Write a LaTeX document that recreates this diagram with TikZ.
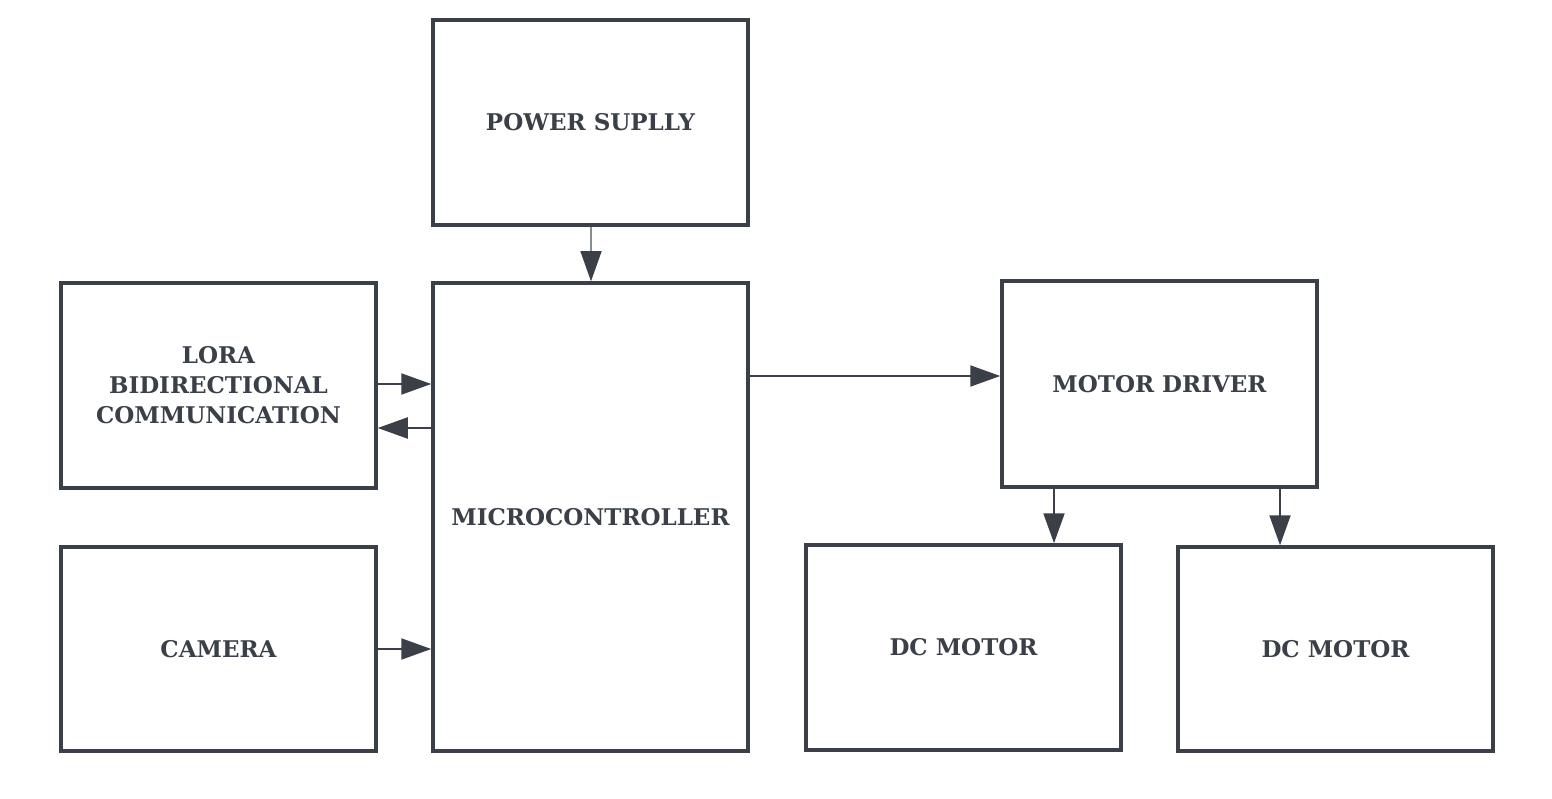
\documentclass[tikz,border=0pt]{standalone}
\usepackage{fontspec}
\setmainfont{DejaVu Serif}
\usetikzlibrary{arrows.meta}
\definecolor{ink}{HTML}{3A3F48}
\tikzset{
  blk/.style={draw=ink, line width=3.5pt, fill=white, inner sep=0pt,
    font=\bfseries\fontsize{23}{30}\selectfont, text=ink, align=center},
  conn/.style={draw=ink, line width=2pt, -{Triangle[length=30pt,width=21pt]}},
  thinconn/.style={draw=ink!60, line width=1.2pt, -{Triangle[length=30pt,width=21pt,fill=ink,color=ink]}}
}
\begin{document}
\begin{tikzpicture}[x=1pt,y=-1pt]
\useasboundingbox[fill=white] (0,0) rectangle (1552,799);
% boxes: corners in pixels
\node[blk, minimum width=315pt, minimum height=205pt] (ps) at (590.5,122.5) {POWER SUPLLY};
\node[blk, minimum width=315pt, minimum height=205pt] (lora) at (218.5,385.5) {LORA\\BIDIRECTIONAL\\COMMUNICATION};
\node[blk, minimum width=315pt, minimum height=468pt] (mc) at (590.5,517) {MICROCONTROLLER};
\node[blk, minimum width=315pt, minimum height=204pt] (cam) at (218.5,649) {CAMERA};
\node[blk, minimum width=315pt, minimum height=206pt] (md) at (1159.5,384) {MOTOR DRIVER};
\node[blk, minimum width=315pt, minimum height=205pt] (dc1) at (963.5,647.5) {DC MOTOR};
\node[blk, minimum width=315pt, minimum height=204pt] (dc2) at (1335.5,649) {DC MOTOR};
% connectors
\draw[thinconn] (ps.south -| 591,0) -- (mc.north -| 591,0);
\draw[conn] (lora.east |- 0,384) -- (mc.west |- 0,384);
\draw[conn] (mc.west |- 0,428) -- (lora.east |- 0,428);
\draw[conn] (cam.east |- 0,649) -- (mc.west |- 0,649);
\draw[conn] (mc.east |- 0,376) -- (md.west |- 0,376);
\draw[conn] (md.south -| 1054,0) -- (dc1.north -| 1054,0);
\draw[conn] (md.south -| 1280,0) -- (dc2.north -| 1280,0);
\end{tikzpicture}
\end{document}
